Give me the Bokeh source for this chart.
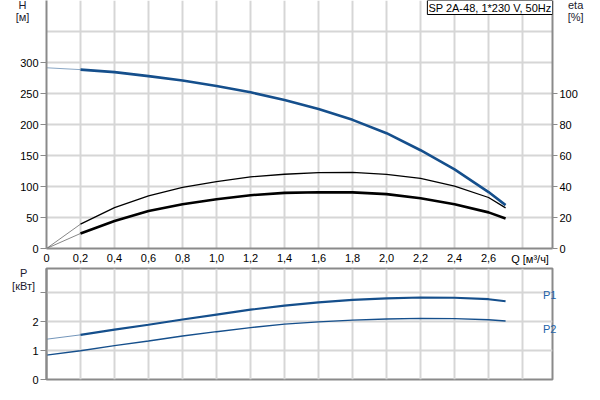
from bokeh.plotting import figure
from bokeh.models import Range1d, LinearAxis, FixedTicker, Label, CustomJSTickFormatter
from bokeh.layouts import column
from bokeh.core.properties import value
from bokeh.embed import file_html
from bokeh.resources import INLINE

# ---- data ----
Q = [0.0, 0.2, 0.4, 0.6, 0.8, 1.0, 1.2, 1.4, 1.6, 1.8, 2.0, 2.2, 2.4, 2.6, 2.7]
H = [291.5, 288.5, 284.5, 278.0, 271.0, 262.0, 252.0, 239.5, 225.0, 207.5, 186.0, 158.5, 127.5, 91.0, 70.0]
ETA_PUMP = [0.0, 15.7, 26.4, 33.9, 39.4, 43.2, 46.2, 47.9, 48.9, 49.1, 47.8, 45.2, 40.3, 32.9, 26.2]
ETA_TOTAL = [0.0, 9.7, 17.8, 24.2, 28.6, 31.8, 34.4, 35.9, 36.3, 36.2, 35.1, 32.4, 28.6, 23.3, 19.3]
P1 = [1.39, 1.54, 1.72, 1.89, 2.07, 2.24, 2.41, 2.55, 2.66, 2.75, 2.80, 2.83, 2.82, 2.77, 2.70]
P2 = [0.84, 0.99, 1.17, 1.33, 1.50, 1.65, 1.79, 1.91, 1.99, 2.05, 2.09, 2.11, 2.10, 2.06, 2.02]

X_TICKS = [0.0, 0.2, 0.4, 0.6, 0.8, 1.0, 1.2, 1.4, 1.6, 1.8, 2.0, 2.2, 2.4, 2.6]
X_GRID = [0.2, 0.4, 0.6, 0.8, 1.0, 1.2, 1.4, 1.6, 1.8, 2.0, 2.2, 2.4, 2.6, 2.8]
H_TICKS = [0, 50, 100, 150, 200, 250, 300]
H_GRID = [50, 100, 150, 200, 250, 300, 350]
ETA_TICKS = [0, 20, 40, 60, 80, 100]
P_TICKS = [0, 1, 2, 3]
P_GRID = [1, 2, 3]

TITLE = "SP 2A-48, 1*230 V, 50Hz"
Q_LABEL = "Q [м³/ч]"

FONT = "Liberation Sans"
BLUE = "#154f8c"
LABEL_BLUE = "#2262a8"
GRID = "#d6d6d6"
AXIS = "#8a8a8a"
TXT = "#1a1a2e"

XMAX = 2.976
HMAX = 400.0
ETAMAX = HMAX / 2.5
PMAX = 3.83


def style_axis(ax):
    ax.axis_line_color = AXIS
    ax.axis_line_width = 2
    ax.major_tick_line_color = AXIS
    ax.major_tick_line_width = 1
    ax.minor_tick_line_color = None
    ax.major_label_text_font = FONT
    ax.major_label_text_font_size = "11px"
    ax.major_label_text_color = "black"


def free_text(fig, x, y, txt, color, align="center", baseline="middle", y_range_name="default"):
    fig.text(x=[x], y=[y], text=[txt], text_align=align, text_baseline=baseline,
             text_font=value(FONT), text_font_size=value("11px"), text_color=color,
             level="overlay", y_range_name=y_range_name)


# ---- top figure: H and eta ----
p = figure(width=592, height=266, x_range=Range1d(0, XMAX), y_range=Range1d(0, HMAX),
           output_backend="svg", toolbar_location=None,
           min_border_left=46, min_border_right=40, min_border_top=0, min_border_bottom=18)
p.extra_y_ranges = {"eta": Range1d(0, ETAMAX)}
p.outline_line_color = None
p.background_fill_color = "white"

p.xaxis.ticker = FixedTicker(ticks=X_TICKS)
p.xaxis.formatter = CustomJSTickFormatter(
    code="return tick == 0 ? '0' : tick.toFixed(1).replace('.', ',');")
p.xaxis.major_tick_out = 0
p.xaxis.major_tick_in = 0
p.xaxis.major_label_standoff = 5
p.yaxis.ticker = FixedTicker(ticks=H_TICKS)
p.yaxis.major_tick_out = 6
p.yaxis.major_tick_in = 0
p.yaxis.major_label_standoff = 2
for ax in p.xaxis + p.yaxis:
    style_axis(ax)

eta_ax = LinearAxis(y_range_name="eta", ticker=FixedTicker(ticks=ETA_TICKS))
style_axis(eta_ax)
eta_ax.major_tick_out = 5
eta_ax.major_tick_in = 0
eta_ax.major_label_standoff = 2
p.add_layout(eta_ax, "right")

p.xgrid.ticker = FixedTicker(ticks=X_GRID)
p.ygrid.ticker = FixedTicker(ticks=H_GRID)
for g in (p.xgrid, p.ygrid):
    g.grid_line_color = GRID
    g.grid_line_width = 2

# faint start segments
p.line(Q[:2], H[:2], line_color=BLUE, line_width=1, line_alpha=0.5)
p.line(Q[:2], ETA_PUMP[:2], y_range_name="eta", line_color="black", line_width=0.8, line_alpha=0.6)
p.line(Q[:2], ETA_TOTAL[:2], y_range_name="eta", line_color="black", line_width=0.8, line_alpha=0.6)
# main curves
p.line(Q[1:], ETA_PUMP[1:], y_range_name="eta", line_color="black", line_width=1.3)
p.line(Q[1:], ETA_TOTAL[1:], y_range_name="eta", line_color="black", line_width=2.6)
p.line(Q[1:], H[1:], line_color=BLUE, line_width=2.6)

p.add_layout(Label(x=XMAX, y=HMAX, text=TITLE, text_align="right", text_baseline="top",
                   text_font=FONT, text_font_size="11px", text_color="black",
                   border_line_color="black", border_line_width=1,
                   background_fill_color="white", padding=1))
free_text(p, -0.141, 392, "H", TXT)
free_text(p, -0.141, 373, "[м]", TXT)
free_text(p, 3.112, 392, "eta", TXT)
free_text(p, 3.112, 374, "[%]", TXT)
free_text(p, 2.844, -17.7, Q_LABEL, "black")

# ---- bottom figure: P1, P2 ----
q = figure(width=592, height=118, x_range=p.x_range, y_range=Range1d(0, PMAX),
           output_backend="svg", toolbar_location=None,
           min_border_left=46, min_border_right=40, min_border_top=2, min_border_bottom=5)
q.outline_line_color = AXIS
q.outline_line_width = 2
q.xaxis.visible = False
q.yaxis.ticker = FixedTicker(ticks=P_TICKS)
q.yaxis.major_label_overrides = {3: ""}
q.yaxis.major_tick_out = 6
q.yaxis.major_tick_in = 0
q.yaxis.major_label_standoff = 2
for ax in q.yaxis:
    style_axis(ax)
q.xgrid.ticker = FixedTicker(ticks=X_GRID)
q.ygrid.ticker = FixedTicker(ticks=P_GRID)
for g in (q.xgrid, q.ygrid):
    g.grid_line_color = GRID
    g.grid_line_width = 2

q.line(Q[:2], P1[:2], line_color=BLUE, line_width=1, line_alpha=0.6)
q.line(Q, P2, line_color=BLUE, line_width=1.4)
q.line(Q[1:], P1[1:], line_color=BLUE, line_width=2.2)

free_text(q, -0.135, 3.66, "P", TXT)
free_text(q, -0.135, 3.21, "[кВт]", TXT)
free_text(q, 2.959, 2.90, "P1", LABEL_BLUE)
free_text(q, 2.959, 1.75, "P2", LABEL_BLUE)

layout = column(p, q, spacing=0)
open("out.html", "w").write(file_html(layout, INLINE))
